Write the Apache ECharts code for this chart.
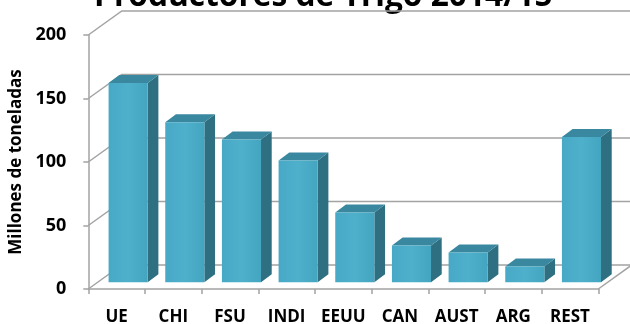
<!DOCTYPE html>
<html>
<head>
<meta charset="utf-8">
<script src="https://cdn.jsdelivr.net/npm/echarts@6/dist/echarts.min.js"></script>
<style>
  html, body { margin: 0; padding: 0; background: #fff; }
  #chart { width: 630px; height: 324px; }
</style>
</head>
<body>
<div id="chart"></div>
<script>
// Wheat production 2014/15, million tonnes
const categories = ['UE', 'CHI', 'FSU', 'INDI', 'EEUU', 'CAN', 'AUST', 'ARG', 'REST'];
const production = [157, 126, 112.5, 96, 55, 29, 23.5, 12.5, 114.5];
const valueTicks = [0, 50, 100, 150, 200];

// Oblique depth of the walls and of the bars, in pixels
const WALL_DX = 33.5, WALL_DY = 24;
const BAR_SHIFT_DX = 11.5, BAR_SHIFT_DY = 6.7;
const BAR_DEPTH_DX = 10.7, BAR_DEPTH_DY = 8;
const BAR_WIDTH_RATIO = 0.69;

const GRID_COLOR = '#a3a3a3';
const FONT = '"Open Sans", "DejaVu Sans", sans-serif';

const chart = echarts.init(document.getElementById('chart'), null, { renderer: 'canvas' });

// Back wall, side wall and floor of the 3D frame
function renderFrame(params, api) {
  const cs = params.coordSys;
  const v = api.value(1);
  const y = api.coord([0, v])[1];
  const left = cs.x, right = cs.x + cs.width;
  const children = [{
    type: 'polyline',
    shape: { points: [[left, y], [left + WALL_DX, y - WALL_DY], [right + WALL_DX, y - WALL_DY]] },
    style: { stroke: GRID_COLOR, lineWidth: 1.5, fill: null }
  }];
  if (v === 0) {
    children.push({
      type: 'line',
      shape: { x1: right, y1: y, x2: right + WALL_DX, y2: y - WALL_DY },
      style: { stroke: GRID_COLOR, lineWidth: 1.5 }
    });
  }
  return { type: 'group', children: children };
}

// Each bar as a front face, a side face and a top face
function renderBar(params, api) {
  const i = api.value(0);
  const v = api.value(1);
  const band = api.size([1, 0])[0];
  const base = api.coord([i, 0]);
  const top = api.coord([i, v]);
  const w = band * BAR_WIDTH_RATIO;
  const x0 = base[0] - w / 2 + BAR_SHIFT_DX;
  const x1 = x0 + w;
  const yb = base[1] - BAR_SHIFT_DY;
  const yt = top[1] - BAR_SHIFT_DY;
  const dx = BAR_DEPTH_DX, dy = BAR_DEPTH_DY;
  return {
    type: 'group',
    children: [
      {
        type: 'polygon',
        shape: { points: [[x1, yt], [x1 + dx, yt - dy], [x1 + dx, yb - dy], [x1, yb]] },
        style: { fill: '#2e6f82' }
      },
      {
        type: 'polygon',
        shape: { points: [[x0, yt], [x0 + dx, yt - dy], [x1 + dx, yt - dy], [x1, yt]] },
        style: { fill: '#3a88a0' }
      },
      {
        type: 'rect',
        shape: { x: x0, y: yt, width: w, height: yb - yt },
        style: {
          fill: new echarts.graphic.LinearGradient(0, 0, 1, 0, [
            { offset: 0, color: '#47a9c6' },
            { offset: 0.5, color: '#4eb0cb' },
            { offset: 1, color: '#44a5c1' }
          ])
        }
      }
    ]
  };
}

chart.setOption({
  animation: false,
  backgroundColor: '#ffffff',
  graphic: [{
    type: 'text',
    left: 94,
    top: -19,
    style: {
      text: 'Productores de Trigo 2014/15',
      fontFamily: FONT,
      fontWeight: 'bold',
      fontSize: 31.7,
      fill: '#000'
    }
  }],
  grid: { left: 88.3, right: 31.7, top: 35, bottom: 35, containLabel: false, outerBoundsMode: 'none' },
  xAxis: {
    type: 'category',
    data: categories,
    boundaryGap: true,
    axisLine: { lineStyle: { color: GRID_COLOR, width: 1.5 } },
    axisTick: { show: true, length: 5, alignWithLabel: false, lineStyle: { color: GRID_COLOR, width: 1.5 } },
    axisLabel: { interval: 0, margin: 20, color: '#000', fontFamily: FONT, fontWeight: 'bold', fontSize: 17 },
    splitLine: { show: false }
  },
  yAxis: {
    type: 'value',
    min: 0,
    max: 200,
    interval: 50,
    name: 'Millones de toneladas',
    nameLocation: 'middle',
    nameRotate: 90,
    nameGap: 59,
    nameTextStyle: { color: '#000', fontFamily: FONT, fontWeight: 'bold', fontSize: 17 },
    axisLine: { show: true, lineStyle: { color: GRID_COLOR, width: 1.5 } },
    axisTick: { show: true, length: 5, lineStyle: { color: GRID_COLOR, width: 1.5 } },
    axisLabel: { margin: 22, color: '#000', fontFamily: FONT, fontWeight: 'bold', fontSize: 18 },
    splitLine: { show: false }
  },
  series: [
    {
      type: 'custom',
      name: 'frame',
      renderItem: renderFrame,
      clip: false,
      silent: true,
      z: 1,
      encode: { x: 0, y: 1 },
      data: valueTicks.map(function (v) { return [0, v]; })
    },
    {
      type: 'custom',
      name: 'Producción',
      renderItem: renderBar,
      clip: false,
      z: 3,
      encode: { x: 0, y: 1 },
      data: production.map(function (v, i) { return [i, v]; })
    }
  ]
});
</script>
</body>
</html>
